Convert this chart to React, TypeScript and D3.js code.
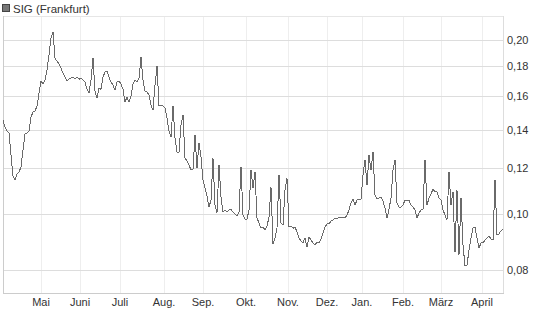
import React from "react";
import * as d3 from "d3";

const seriesName = "SIG (Frankfurt)";

const prices: number[] = [
  0.1454, 0.1414, 0.1392, 0.1381, 0.1265, 0.1163, 0.1145, 0.1172, 0.1182, 0.1206,
  0.1290, 0.1375, 0.1381, 0.1392, 0.1471, 0.1501, 0.1507, 0.1537, 0.1619, 0.1699,
  0.1678, 0.1705, 0.1775, 0.1883, 0.2016, 0.2065, 0.1860, 0.1839, 0.1817, 0.1788,
  0.1753, 0.1725, 0.1699, 0.1711, 0.1718, 0.1725, 0.1711, 0.1725, 0.1711, 0.1718,
  0.1705, 0.1692, 0.1644, 0.1619, 0.1705, 0.1860, 0.1632, 0.1587, 0.1651, 0.1644,
  0.1725, 0.1761, 0.1768, 0.1725, 0.1692, 0.1671, 0.1639, 0.1692, 0.1699, 0.1678,
  0.1644, 0.1562, 0.1593, 0.1562, 0.1600, 0.1678, 0.1705, 0.1692, 0.1718, 0.1868,
  0.1705, 0.1632, 0.1626, 0.1606, 0.1543, 0.1513, 0.1671, 0.1802, 0.1543, 0.1543,
  0.1537, 0.1525, 0.1465, 0.1392, 0.1358, 0.1537, 0.1353, 0.1280, 0.1280, 0.1425,
  0.1483, 0.1249, 0.1235, 0.1216, 0.1192, 0.1196, 0.1369, 0.1201, 0.1327, 0.1255,
  0.1145, 0.1108, 0.1074, 0.1028, 0.1057, 0.1249, 0.1036, 0.1004, 0.1216, 0.1070,
  0.1008, 0.1016, 0.1008, 0.1016, 0.1019, 0.1008, 0.1000, 0.0992, 0.1008, 0.1206,
  0.0996, 0.0980, 0.0980, 0.1016, 0.1192, 0.1108, 0.1182, 0.0984, 0.0965, 0.0945,
  0.0949, 0.0938, 0.0953, 0.0988, 0.1113, 0.0887, 0.0909, 0.0945, 0.1168, 0.0965,
  0.0957, 0.1100, 0.1153, 0.0949, 0.0953, 0.0945, 0.0949, 0.0931, 0.0909, 0.0898,
  0.0891, 0.0909, 0.0876, 0.0912, 0.0902, 0.0891, 0.0884, 0.0894, 0.0891, 0.0905,
  0.0927, 0.0949, 0.0961, 0.0961, 0.0972, 0.0976, 0.0984, 0.0980, 0.0988, 0.0988,
  0.0988, 0.0984, 0.0996, 0.1016, 0.1045, 0.1061, 0.1036, 0.1057, 0.1061, 0.1061,
  0.1168, 0.1240, 0.1122, 0.1265, 0.1192, 0.1280, 0.1078, 0.1061, 0.1066, 0.1070,
  0.1053, 0.1024, 0.0984, 0.1019, 0.1066, 0.1192, 0.1240, 0.1045, 0.1028, 0.1028,
  0.1036, 0.1057, 0.1057, 0.1057, 0.1036, 0.1028, 0.1016, 0.0984, 0.1004, 0.1016,
  0.1019, 0.1240, 0.1036, 0.1066, 0.1083, 0.1104, 0.1092, 0.1092, 0.1066, 0.1057,
  0.1016, 0.0996, 0.0976, 0.1182, 0.1036, 0.1092, 0.0859, 0.1100, 0.0849, 0.1066,
  0.0884, 0.0813, 0.0816, 0.0866, 0.0909, 0.0945, 0.0949, 0.0909, 0.0873, 0.0891,
  0.0891, 0.0902, 0.0909, 0.0916, 0.0905, 0.0902, 0.1145, 0.0920, 0.0924, 0.0935, 0.0942,
];

const monthLabels = ["Mai", "Juni", "Juli", "Aug.", "Sep.", "Okt.", "Nov.", "Dez.", "Jan.", "Feb.", "März", "April"];
const monthStartIndex = [19, 38.5, 58.5, 80.5, 100, 121.5, 142.5, 162, 179.5, 200, 219, 239.5];

const yTicks = [0.08, 0.1, 0.12, 0.14, 0.16, 0.18, 0.2];
const yDomain = [0.073, 0.2201];

const W = 545;
const H = 327;
const plot = { left: 3, right: 503, top: 16, bottom: 293 };
const FONT = "'Liberation Sans', Arial, sans-serif";

export default function App() {
  const x = d3.scaleLinear().domain([0, prices.length - 1]).range([plot.left, plot.right]);
  const y = d3.scaleLog().domain(yDomain).range([plot.bottom, plot.top]);
  const line = d3
    .line<number>()
    .x((_, i) => x(i))
    .y((d) => y(d));
  const fmt = (v: number) => v.toFixed(2).replace(".", ",");

  return (
    <svg
      width={W}
      height={H}
      style={{ position: "absolute", left: 0, top: 0, background: "#fff" }}
      fontFamily={FONT}
    >
      <rect x={0} y={0} width={W} height={H} fill="#fff" />
      {/* legend */}
      <rect x={2.5} y={4.5} width={7} height={7} fill="#777" stroke="#444" strokeWidth={1} />
      <text x={13} y={12.5} fontSize={11.5} fill="#333">
        {seriesName}
      </text>

      {/* vertical grid */}
      {monthStartIndex.map((m, i) => (
        <line
          key={"vg" + i}
          x1={Math.round(x(m)) + 0.5}
          x2={Math.round(x(m)) + 0.5}
          y1={plot.top}
          y2={plot.bottom}
          stroke="#eeeeee"
          strokeWidth={1}
        />
      ))}
      {/* horizontal grid */}
      {yTicks.map((t, i) => (
        <line
          key={"hg" + i}
          x1={plot.left}
          x2={plot.right}
          y1={Math.round(y(t)) + 0.5}
          y2={Math.round(y(t)) + 0.5}
          stroke="#dddddd"
          strokeWidth={1}
        />
      ))}
      {/* frame */}
      <line x1={plot.left} x2={plot.right} y1={plot.top + 0.5} y2={plot.top + 0.5} stroke="#e6e6e6" />
      <line x1={plot.left + 0.5} x2={plot.left + 0.5} y1={plot.top} y2={plot.bottom} stroke="#cccccc" />
      <line x1={plot.right + 0.5} x2={plot.right + 0.5} y1={plot.top} y2={plot.bottom} stroke="#dddddd" />
      <line x1={plot.left} x2={plot.right + 1} y1={plot.bottom + 0.5} y2={plot.bottom + 0.5} stroke="#cccccc" />

      {/* series */}
      <path
        d={line(prices) || ""}
        fill="none"
        stroke="#6a6a6a"
        strokeWidth={1}
        shapeRendering="crispEdges"
      />

      {/* y labels */}
      {yTicks.map((t, i) => (
        <text key={"yl" + i} x={507} y={y(t) + 4} fontSize={11} fill="#333">
          {fmt(t)}
        </text>
      ))}
      {/* x labels */}
      {monthStartIndex.map((m, i) => (
        <text key={"xl" + i} x={x(m)} y={306} fontSize={11} fill="#333" textAnchor="middle">
          {monthLabels[i]}
        </text>
      ))}
    </svg>
  );
}
